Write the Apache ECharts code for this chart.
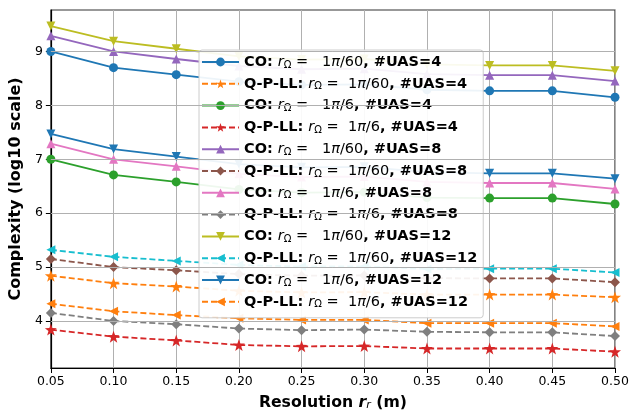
<!DOCTYPE html>
<html><head><meta charset="utf-8">
<script src="https://cdn.jsdelivr.net/npm/echarts@6/dist/echarts.min.js"></script>
<style>html,body{margin:0;padding:0;background:#fff}#c{width:641px;height:416px}</style>
</head><body><div id="c"></div>
<script>
const resolutions = [0.05,0.10,0.15,0.20,0.25,0.30,0.35,0.40,0.45,0.50];
const xTicks = ['0.05','0.10','0.15','0.20','0.25','0.30','0.35','0.40','0.45','0.50'];
const yTicks = [4,5,6,7,8,9];

const methods = ['CO','Q-P-LL','CO','Q-P-LL','CO','Q-P-LL','CO','Q-P-LL','CO','Q-P-LL','CO','Q-P-LL'];
const rOmegaDen = ['60','60','6','6','60','60','6','6','60','60','6','6'];
const uasCounts = [4,4,4,4,8,8,8,8,12,12,12,12];

const coR60U4   = [9.00,8.70,8.57,8.44,8.38,8.39,8.29,8.27,8.27,8.15];
const qpR60U4   = [4.84,4.70,4.64,4.56,4.53,4.535,4.49,4.49,4.49,4.44];
const coR6U4    = [7.00,6.71,6.58,6.44,6.38,6.39,6.29,6.28,6.28,6.17];
const qpR6U4    = [3.84,3.71,3.64,3.555,3.53,3.535,3.49,3.49,3.49,3.43];
const coR60U8   = [9.29,9.00,8.86,8.73,8.67,8.68,8.58,8.56,8.56,8.45];
const qpR60U8   = [5.15,5.00,4.94,4.87,4.84,4.845,4.795,4.79,4.79,4.72];
const coR6U8    = [7.29,7.00,6.87,6.73,6.67,6.68,6.58,6.56,6.56,6.45];
const qpR6U8    = [4.15,4.00,3.94,3.86,3.83,3.84,3.80,3.79,3.79,3.72];
const coR60U12  = [9.47,9.19,9.05,8.91,8.85,8.86,8.76,8.74,8.74,8.64];
const qpR60U12  = [5.32,5.19,5.115,5.04,5.01,5.015,4.965,4.97,4.97,4.90];
const coR6U12   = [7.47,7.19,7.05,6.91,6.85,6.86,6.76,6.74,6.74,6.64];
const qpR6U12   = [4.32,4.18,4.11,4.05,4.02,4.02,3.96,3.96,3.96,3.90];

const allValues = [coR60U4,qpR60U4,coR6U4,qpR6U4,coR60U8,qpR60U8,coR6U8,qpR6U8,coR60U12,qpR60U12,coR6U12,qpR6U12];

const colors = ['#1f77b4','#ff7f0e','#2ca02c','#d62728','#9467bd','#8c564b','#e377c2','#7f7f7f','#bcbd22','#17becf','#1f77b4','#ff7f0e'];
const STAR = 'path://M0,-10 L2.35,-3.24 L9.51,-3.09 L3.80,1.24 L5.88,8.09 L0,4 L-5.88,8.09 L-3.80,1.24 L-9.51,-3.09 L-2.35,-3.24 Z';
const symbols = ['circle',STAR,'circle',STAR,'triangle','diamond','triangle','diamond','triangle','triangle','triangle','triangle'];
const rotations = [0,0,0,0,0,0,0,0,180,90,180,90];
const sizes = [9,12,9,12,9,9,9,9,9,9,9,9];

const names = methods.map((m,i)=> m + ': rΩ = 1π/' + rOmegaDen[i] + ', #UAS=' + uasCounts[i]);

const series = allValues.map((vals,i)=>({
  name: names[i],
  type: 'line',
  data: vals.map((v,j)=>[resolutions[j], v]),
  symbol: symbols[i],
  symbolRotate: rotations[i],
  symbolSize: symbols[i]==='diamond' ? [10,10] : sizes[i],
  showAllSymbol: true,
  color: colors[i],
  lineStyle: {width: 1.8, type: methods[i]==='CO' ? 'solid' : [6,3], color: colors[i]},
  itemStyle: {color: colors[i]},
  emphasis: {disabled: true},
  animation: false,
  z: 2
}));

// horizontal grid lines at the y tick values
series.push({
  type: 'line', data: [], silent: true, animation: false,
  markLine: {silent: true, symbol: ['none','none'], label: {show: false},
    lineStyle: {color: '#b0b0b0', width: 1, type: 'solid'},
    data: yTicks.map(t => ({yAxis: t}))},
  z: 1
});

const FONT = 'DejaVu Sans';
const chart = echarts.init(document.getElementById('c'), null, {renderer:'canvas'});
chart.setOption({
  animation: false,
  backgroundColor: '#fff',
  textStyle: {fontFamily: FONT},
  grid: {left: 50, right: 26, top: 10, bottom: 44, show: true, borderColor: '#333', borderWidth: 1.2},
  xAxis: {
    type: 'value', min: 0.05, max: 0.5, interval: 0.05,
    name: '{b|Resolution }{i|r}{s|r}{b| (m)}',
    nameLocation: 'middle', nameGap: 26,
    nameTextStyle: {rich: {
      b: {fontFamily: FONT, fontWeight: 'bold', fontSize: 15.7, color: '#000'},
      i: {fontFamily: FONT, fontWeight: 'bold', fontStyle: 'italic', fontSize: 15.7, color: '#000'},
      s: {fontFamily: FONT, fontStyle: 'italic', fontSize: 11, color: '#000', verticalAlign: 'bottom', padding: [6,0,0,0]}
    }},
    axisLine: {show: true, onZero: false, lineStyle: {color: '#000', width: 1.2}},
    axisTick: {show: true, length: 5, lineStyle: {color: '#000'}},
    axisLabel: {color: '#000', fontSize: 12.5, fontFamily: FONT, margin: 7,
      formatter: v => { const k = Math.round(v/0.05)-1; return xTicks[k] !== undefined ? xTicks[k] : ''; }},
    splitLine: {show: true, lineStyle: {color: '#b0b0b0', width: 1}}
  },
  yAxis: {
    type: 'value', min: 3.128, max: 9.769,
    name: 'Complexity (log10 scale)',
    nameLocation: 'middle', nameGap: 22,
    nameTextStyle: {fontFamily: FONT, fontWeight: 'bold', fontSize: 16, color: '#000'},
    axisLine: {show: true, lineStyle: {color: '#000', width: 1.2}},
    axisTick: {show: true, length: 5, lineStyle: {color: '#000'}, customValues: yTicks},
    axisLabel: {color: '#000', fontSize: 12.5, fontFamily: FONT, margin: 8, customValues: yTicks,
      formatter: v => String(Math.round(v))},
    splitLine: {show: false}
  },
  legend: {
    orient: 'vertical', left: 199, top: 50,
    data: names,
    itemWidth: 37, itemHeight: 11, itemGap: 5.8,
    padding: [4,6,8,2],
    backgroundColor: 'rgba(255,255,255,0.92)',
    borderColor: '#cccccc', borderWidth: 1, borderRadius: 3,
    selectedMode: false,
    textStyle: {fontFamily: FONT, fontSize: 14.5, color: '#000', lineHeight: 16, rich: {
      b: {fontFamily: FONT, fontWeight: 'bold', fontSize: 14.5, color: '#000'},
      n: {fontFamily: FONT, fontSize: 14.5, color: '#000'},
      i: {fontFamily: FONT, fontStyle: 'italic', fontSize: 14.5, color: '#000'},
      s: {fontFamily: FONT, fontSize: 10, color: '#000', verticalAlign: 'bottom', padding: [5,0,0,0]}
    }},
    formatter: function(name){
      const i = names.indexOf(name);
      const pad = methods[i]==='CO' ? '   ' : '  ';
      return '{b|' + methods[i] + ': }{i|r}{s|Ω}{n| =' + pad + '1}{i|π}{n|/' + rOmegaDen[i] + '}{b|, #UAS=' + uasCounts[i] + '}';
    }
  },
  series: series
});
</script></body></html>
